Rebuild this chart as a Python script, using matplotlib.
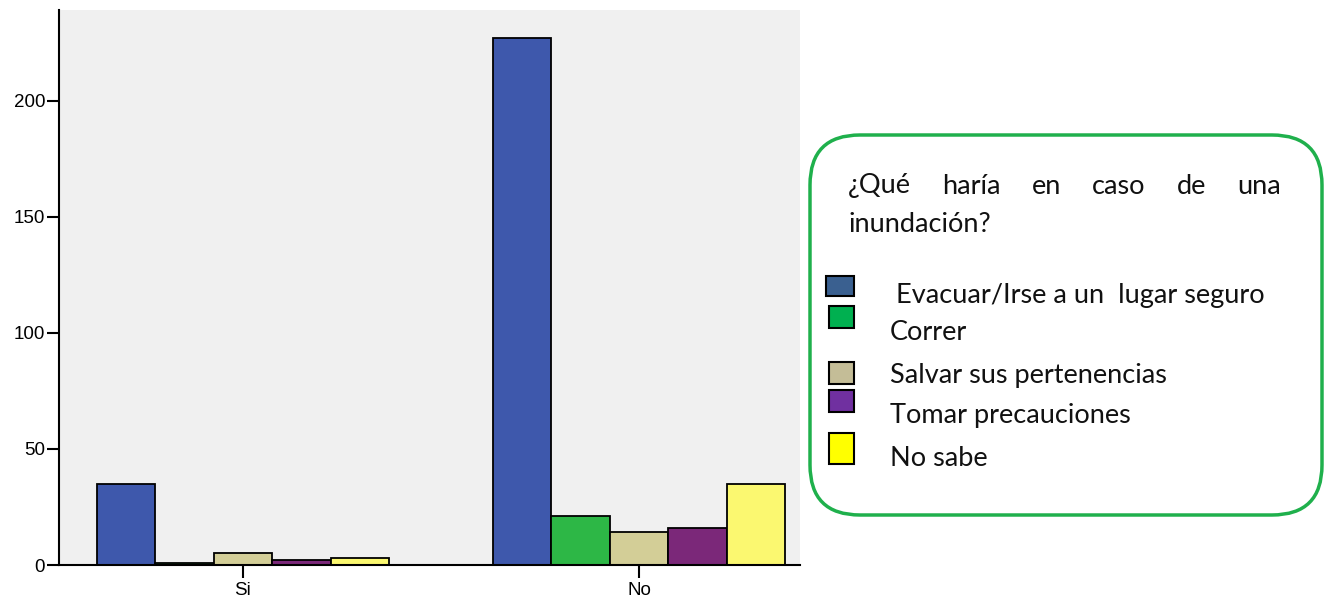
import matplotlib.pyplot as plt
import numpy as np
from matplotlib.patches import FancyBboxPatch, Rectangle

# counts per answer, split by group
groups = ["Si", "No"]
answers = ["Evacuar/Irse a un  lugar seguro", "Correr", "Salvar sus pertenencias",
           "Tomar precauciones", "No sabe"]
evacuar = [35, 227]
correr = [1, 21]
salvar = [5, 14]
tomar = [2, 16]
no_sabe = [3, 35]

bar_colors = ["#3e58ac", "#2db746", "#d3ce97", "#7b2879", "#fbf870"]
key_colors = ["#3a6090", "#00b050", "#c4bd97", "#7030a0", "#ffff00"]

fig = plt.figure(figsize=(13.31, 6), dpi=100)
ax = fig.add_axes([59 / 1331, 35 / 600, 741 / 1331, 555 / 600])
ax.set_facecolor("#f0f0f0")

x = np.arange(len(groups))
w = 0.1477
series = [evacuar, correr, salvar, tomar, no_sabe]
for i, vals in enumerate(series):
    ax.bar(x + (i - 2) * w, vals, w, color=bar_colors[i], edgecolor="black", linewidth=1.3)

ax.set_xlim(-0.4646, 1.4066)
ax.set_ylim(0, 239)
ax.set_yticks([0, 50, 100, 150, 200])
ax.set_xticks(x)
ax.set_xticklabels(groups)
for s in ["top", "right"]:
    ax.spines[s].set_visible(False)
for s in ["left", "bottom"]:
    ax.spines[s].set_linewidth(1.5)
ax.tick_params(axis="both", length=9, width=1.5, labelsize=13.5,
               labelfontfamily="Liberation Sans")
ax.tick_params(axis="y", pad=1)
ax.tick_params(axis="x", pad=3)

# legend panel drawn in pixel coordinates
lg = fig.add_axes([0, 0, 1, 1], zorder=5)
lg.set_xlim(0, 1331)
lg.set_ylim(600, 0)
lg.axis("off")
lg.add_patch(FancyBboxPatch((810, 135), 512, 380,
                            boxstyle="round,pad=0,rounding_size=50",
                            facecolor="white", edgecolor="#1fb04c", linewidth=2.5))

font = dict(family="Lato", size=19.5, color="#111111")

# justified first line of the heading
words = ["¿Qué", "haría", "en", "caso", "de", "una"]
left, right = 848, 1281
texts = [lg.text(0, 186, wd, va="center", ha="left", **font) for wd in words]
fig.canvas.draw()
r = fig.canvas.get_renderer()
inv = lg.transData.inverted()
widths = []
for t in texts:
    bb = t.get_window_extent(r)
    p0 = inv.transform((bb.x0, bb.y0))
    p1 = inv.transform((bb.x1, bb.y0))
    widths.append(p1[0] - p0[0])
gap = (right - left - sum(widths)) / (len(words) - 1)
pos = left
for t, wd in zip(texts, widths):
    t.set_x(pos)
    pos += wd + gap
lg.text(left, 225, "inundación?", va="center", ha="left", **font)

swatches = [(276, 296), (306, 328), (362, 384), (390, 412), (433, 464)]
label_y = [295, 333, 375, 416, 458]
label_x = [896, 890, 890, 890, 890]
for i, name in enumerate(answers):
    y0, y1 = swatches[i]
    x0 = 826 if i == 0 else 829
    lg.add_patch(Rectangle((x0, y0), 854 - x0, y1 - y0, facecolor=key_colors[i],
                           edgecolor="black", linewidth=1.5))
    lg.text(label_x[i], label_y[i], name, va="center", ha="left", **font)

fig.savefig("out.png", dpi=100)
